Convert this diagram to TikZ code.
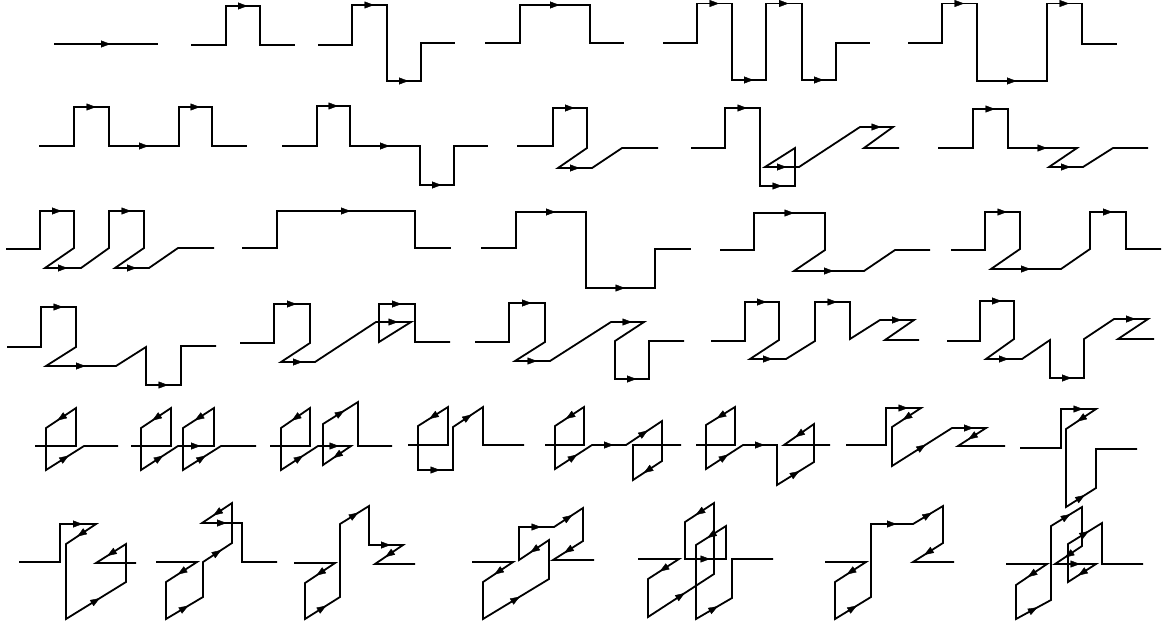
\documentclass[tikz,border=0pt]{standalone}
\usetikzlibrary{arrows.meta,decorations.markings}
\tikzset{
  ln/.style={line width=1.8pt},
  arr/.style={decoration={markings, mark=at position 0.5 with {\arrow[xshift=4.5pt]{Triangle[length=9.5pt,width=7pt]}}}, decorate}
}
\newcommand\ar[2]{\path[arr] (#1) -- (#2);}
\begin{document}
\begin{tikzpicture}[x=1pt,y=-1pt]
\useasboundingbox (0,0) rectangle (1166,621);
% ---------- Row 1
\draw[ln] (54,44) -- (158,44); \ar{54,44}{158,44}
\draw[ln] (191,45) -- (226,45) -- (226,6) -- (260,6) -- (260,45) -- (295,45); \ar{226,6}{260,6}
\draw[ln] (318,45) -- (352,45) -- (352,5) -- (387,5) -- (387,81) -- (421,81) -- (421,43) -- (455,43);
\ar{352,5}{387,5} \ar{387,81}{421,81}
\draw[ln] (485,43) -- (520,43) -- (520,5) -- (590,5) -- (590,43) -- (624,43); \ar{520,5}{590,5}
\draw[ln] (663,43) -- (697,43) -- (697,3.5) -- (732,3.5) -- (732,80) -- (766,80) -- (766,3.5) -- (802,3.5) -- (802,80) -- (836,80) -- (836,43) -- (870,43);
\ar{697,3.5}{732,3.5} \ar{732,80}{766,80} \ar{766,3.5}{802,3.5} \ar{802,80}{836,80}
\draw[ln] (908,43) -- (942,43) -- (942,3.5) -- (977,3.5) -- (977,81) -- (1047,81) -- (1047,3.5) -- (1082,3.5) -- (1082,44) -- (1117,44);
\ar{942,3.5}{977,3.5} \ar{977,81}{1047,81} \ar{1047,3.5}{1082,3.5}
% ---------- Row 2
\draw[ln] (39,146) -- (74,146) -- (74,107) -- (109,107) -- (109,146) -- (179,146) -- (179,107) -- (212,107) -- (212,146) -- (247,146);
\ar{74,107}{109,107} \ar{109,146}{179,146} \ar{179,107}{212,107}
\draw[ln] (282,146) -- (317,146) -- (317,106) -- (350,106) -- (350,146) -- (420,146) -- (420,185) -- (454,185) -- (454,146) -- (488,146);
\ar{317,106}{350,106} \ar{350,146}{420,146} \ar{420,185}{454,185}
\draw[ln] (517,146) -- (553,146) -- (553,108) -- (587,108) -- (587,148) -- (558,168) -- (592,168) -- (622,148) -- (658,148);
\ar{553,108}{587,108} \ar{558,168}{592,168}
\draw[ln] (691,148) -- (725,148) -- (725,108) -- (760,108) -- (760,186) -- (795,186) -- (795,148) -- (765,167) -- (799,167) -- (860,127) -- (893,127) -- (864,148) -- (899,148);
\ar{725,108}{760,108} \ar{760,186}{795,186} \ar{765,167}{799,167} \ar{860,127}{893,127}
\draw[ln] (938,148) -- (973,148) -- (973,109) -- (1008,109) -- (1008,148) -- (1077,148) -- (1049,167) -- (1083,167) -- (1113,148) -- (1148,148);
\ar{973,109}{1008,109} \ar{1008,148}{1077,148} \ar{1049,167}{1083,167}
% ---------- Row 3
\draw[ln] (6,249) -- (40,249) -- (40,211) -- (74,211) -- (74,248) -- (45,268) -- (81,268) -- (109,248) -- (109,211) -- (144,211) -- (144,248) -- (115,268) -- (149,268) -- (178,248) -- (214,248);
\ar{40,211}{74,211} \ar{45,268}{81,268} \ar{109,211}{144,211} \ar{115,268}{149,268}
\draw[ln] (242,248) -- (277,248) -- (277,211) -- (415,211) -- (415,248) -- (451,248); \ar{277,211}{415,211}
\draw[ln] (481,248) -- (516,248) -- (516,212) -- (586,212) -- (586,288) -- (655,288) -- (655,249) -- (691,249);
\ar{516,212}{586,212} \ar{586,288}{655,288}
\draw[ln] (720,250) -- (754,250) -- (754,213) -- (825,213) -- (825,250) -- (794,271) -- (864,271) -- (895,250) -- (930,250);
\ar{754,213}{825,213} \ar{794,271}{864,271}
\draw[ln] (951,250) -- (985,250) -- (985,212) -- (1020,212) -- (1020,249) -- (991,269) -- (1061,269) -- (1090,249) -- (1090,212) -- (1126,212) -- (1126,249) -- (1161,249);
\ar{985,212}{1020,212} \ar{991,269}{1061,269} \ar{1090,212}{1126,212}
% ---------- Row 4
\draw[ln] (7,347) -- (41,347) -- (41,307) -- (76,307) -- (76,347) -- (46,366) -- (116,366) -- (146,347) -- (146,385) -- (181,385) -- (181,346) -- (216,346);
\ar{41,307}{76,307} \ar{46,366}{116,366} \ar{146,385}{181,385}
\draw[ln] (240,343) -- (274,343) -- (274,304) -- (310,304) -- (310,343) -- (281,362) -- (315,362) -- (376,322) -- (411,322) -- (379,342) -- (379,304) -- (415,304) -- (415,342) -- (450,342);
\ar{274,304}{310,304} \ar{281,362}{315,362} \ar{376,322}{411,322} \ar{379,304}{415,304}
\draw[ln] (475,342) -- (509,342) -- (509,303) -- (545,303) -- (545,342) -- (515,361) -- (550,361) -- (611,322) -- (644,322) -- (615,341) -- (615,379) -- (649,379) -- (649,341) -- (684,341);
\ar{509,303}{545,303} \ar{515,361}{550,361} \ar{611,322}{644,322} \ar{615,379}{649,379}
\draw[ln] (711,341) -- (745,341) -- (745,302) -- (779,302) -- (779,340) -- (750,359) -- (786,359) -- (815,341) -- (815,302) -- (850,302) -- (850,339) -- (880,320) -- (914,320) -- (885,340) -- (919,340);
\ar{745,302}{779,302} \ar{750,359}{786,359} \ar{815,302}{850,302} \ar{880,320}{914,320}
\draw[ln] (947,341) -- (980,341) -- (980,301) -- (1014,301) -- (1014,339) -- (986,359) -- (1022,359) -- (1050,340) -- (1050,378) -- (1084,378) -- (1084,339) -- (1114,319) -- (1148,319) -- (1118,339) -- (1154,339);
\ar{980,301}{1014,301} \ar{986,359}{1022,359} \ar{1050,378}{1084,378} \ar{1114,319}{1148,319}
% ---------- Row 5
\draw[ln] (35,446) -- (76,446) -- (76,408) -- (46,428) -- (46,470) -- (84,446) -- (118,446);
\ar{76,408}{46,428} \ar{46,470}{84,446}
\draw[ln] (131,446) -- (171,446) -- (171,408) -- (141,428) -- (141,470) -- (178,446) -- (214,446) -- (214,408) -- (183,428) -- (183,470) -- (221,446) -- (256,446);
\ar{171,408}{141,428} \ar{141,470}{178,446} \ar{178,446}{214,446} \ar{214,408}{183,428} \ar{183,470}{221,446}
\draw[ln] (270,446) -- (310,446) -- (310,408) -- (281,428) -- (281,470) -- (318,446) -- (351,446) -- (323,465) -- (323,424) -- (358,402) -- (358,446) -- (392,446);
\ar{310,408}{281,428} \ar{281,470}{318,446} \ar{318,446}{351,446} \ar{351,446}{323,465} \ar{323,424}{358,402}
\draw[ln] (408,445) -- (448,445) -- (448,407) -- (418,426) -- (418,470) -- (453,470) -- (453,427) -- (483,407) -- (483,445) -- (524,445);
\ar{448,407}{418,426} \ar{418,470}{453,470} \ar{453,427}{483,407}
\draw[ln] (545,445) -- (584,445) -- (584,407) -- (555,426) -- (555,469) -- (592,445) -- (626,445) -- (662,421) -- (662,461) -- (633,480) -- (633,445) -- (681,445);
\ar{584,407}{555,426} \ar{555,469}{592,445} \ar{592,445}{626,445} \ar{626,445}{662,421} \ar{662,461}{633,480}
\draw[ln] (696,445) -- (735,445) -- (735,407) -- (706,425) -- (706,469) -- (743,445) -- (777,445) -- (777,485) -- (814,462) -- (814,424) -- (784,445) -- (830,445);
\ar{735,407}{706,425} \ar{706,469}{743,445} \ar{743,445}{777,445} \ar{777,485}{814,462} \ar{814,424}{784,445}
\draw[ln] (846,445) -- (886,445) -- (886,408) -- (921,408) -- (892,427) -- (892,466) -- (952,428) -- (986,428) -- (958,446) -- (1005,446);
\ar{886,408}{921,408} \ar{921,408}{892,427} \ar{892,466}{952,428} \ar{952,428}{986,428} \ar{986,428}{958,446}
\draw[ln] (1020,448) -- (1061,448) -- (1061,409) -- (1096,409) -- (1066,429) -- (1066,507) -- (1096,488) -- (1096,449) -- (1137,449);
\ar{1061,409}{1096,409} \ar{1096,409}{1066,429} \ar{1066,507}{1096,488}
% ---------- Row 6
\draw[ln] (19,562) -- (60,562) -- (60,524) -- (96,524) -- (66,544) -- (66,619) -- (126,582) -- (126,544) -- (96,563) -- (136,563);
\ar{60,524}{96,524} \ar{96,524}{66,544} \ar{66,619}{126,582} \ar{126,544}{96,563}
\draw[ln] (156,562) -- (197,562) -- (166,582) -- (166,619) -- (203,597) -- (203,562) -- (232,543) -- (232,503) -- (202,523) -- (242,523) -- (242,562) -- (277,562);
\ar{197,562}{166,582} \ar{166,619}{203,597} \ar{203,562}{232,543} \ar{232,503}{202,523} \ar{202,523}{242,523}
\draw[ln] (294,563) -- (335,563) -- (305,583) -- (305,619) -- (340,597) -- (340,524) -- (369,506) -- (369,545) -- (403,545) -- (375,564) -- (415,564);
\ar{335,563}{305,583} \ar{305,619}{340,597} \ar{340,524}{369,506} \ar{369,545}{403,545} \ar{403,545}{375,564}
\draw[ln] (472,562) -- (513,562) -- (483,582) -- (483,619) -- (549,579) -- (549,540) -- (519,560) -- (519,527) -- (554,527) -- (583,508) -- (583,541) -- (553,560) -- (594,560);
\ar{513,562}{483,582} \ar{483,619}{549,579} \ar{549,540}{519,560} \ar{519,527}{554,527} \ar{554,527}{583,508} \ar{583,541}{553,560}
\draw[ln] (638,559) -- (679,559) -- (648,579) -- (648,617) -- (714,574) -- (714,503) -- (685,522) -- (685,559) -- (726,559) -- (726,526) -- (696,545) -- (696,619) -- (732,598) -- (732,559) -- (773,559);
\ar{679,559}{648,579} \ar{648,617}{714,574} \ar{714,503}{685,522} \ar{685,559}{726,559} \ar{726,526}{696,545} \ar{696,619}{732,598}
\draw[ln] (825,562) -- (866,562) -- (835,582) -- (835,619) -- (871,597) -- (871,524) -- (913,524) -- (943,506) -- (943,543) -- (913,562) -- (954,562);
\ar{866,562}{835,582} \ar{835,619}{871,597} \ar{871,524}{913,524} \ar{913,524}{943,506} \ar{943,543}{913,562}
\draw[ln] (1006,564) -- (1047,564) -- (1016,585) -- (1016,619) -- (1051,600) -- (1051,526) -- (1082,507) -- (1082,546) -- (1055,564) -- (1096,564) -- (1068,582) -- (1068,544) -- (1102,523) -- (1102,564) -- (1143,564);
\ar{1047,564}{1016,585} \ar{1016,619}{1051,600} \ar{1051,526}{1082,507} \ar{1082,546}{1055,564} \ar{1055,564}{1096,564} \ar{1096,564}{1068,582} \ar{1068,544}{1102,523}
\end{tikzpicture}
\end{document}
